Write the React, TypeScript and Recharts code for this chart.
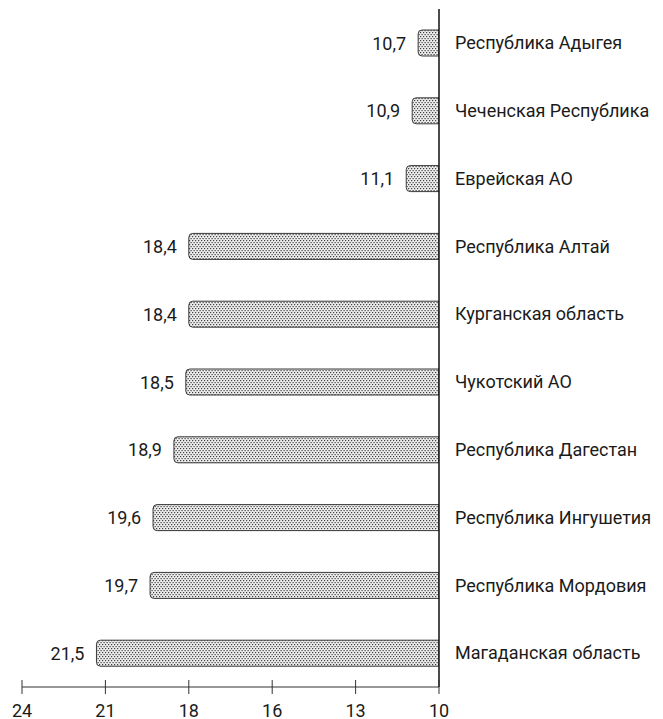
import React from "react";
import { BarChart, Bar, XAxis, YAxis, LabelList } from "recharts";

const regions = [
  "Республика Адыгея",
  "Чеченская Республика",
  "Еврейская АО",
  "Республика Алтай",
  "Курганская область",
  "Чукотский АО",
  "Республика Дагестан",
  "Республика Ингушетия",
  "Республика Мордовия",
  "Магаданская область",
];
const values = [10.7, 10.9, 11.1, 18.4, 18.4, 18.5, 18.9, 19.6, 19.7, 21.5];
const axisTicks = [24, 21.2, 18.4, 15.6, 12.8, 10];

const data = regions.map((name, i) => ({ name, value: values[i] }));

const FONT = "Roboto, 'Liberation Sans', Arial, sans-serif";
const fmt = (v: number) => v.toFixed(1).replace(".", ",");

const BarShape = (props: any) => {
  const { x, y, width, height } = props;
  const l = Math.min(x, x + width);
  const r = Math.max(x, x + width);
  const t = y;
  const b = y + height;
  const rad = Math.min(4, (r - l) / 2);
  const d = `M${r},${t} L${l + rad},${t} Q${l},${t} ${l},${t + rad} L${l},${b - rad} Q${l},${b} ${l + rad},${b} L${r},${b} Z`;
  return <path d={d} fill="url(#dotPattern)" stroke="#3a3a3a" strokeWidth={1} />;
};

const ValueLabel = (props: any) => {
  const { x, y, width, height, value } = props;
  const l = Math.min(x, x + width);
  return (
    <text
      x={l - 12}
      y={y + height / 2}
      textAnchor="end"
      dominantBaseline="central"
      fontSize={18}
      fontFamily={FONT}
      fill="#1a1a1a"
    >
      {fmt(value)}
    </text>
  );
};

const XTick = (props: any) => {
  const { x, y, payload } = props;
  return (
    <g>
      <line x1={x} x2={x} y1={y - 7} y2={y + 7} stroke="#333" strokeWidth={1} />
      <text
        x={x}
        y={y + 23}
        textAnchor="middle"
        dominantBaseline="central"
        fontSize={18}
        fontFamily={FONT}
        fill="#1a1a1a"
      >
        {Math.round(payload.value)}
      </text>
    </g>
  );
};

export default function App() {
  return (
    <div style={{ position: "absolute", left: 0, top: 0, width: 663, height: 719, background: "#fff" }}>
      <BarChart
        width={663}
        height={719}
        data={data}
        layout="vertical"
        margin={{ top: 9, right: 0, bottom: 0, left: 22 }}
        barSize={26}
      >
        <defs>
          <pattern id="dotPattern" width={3} height={4} patternUnits="userSpaceOnUse">
            <rect x={0} y={0} width={3} height={4} fill="#eeeeee" />
            <rect x={0} y={0} width={1.2} height={1.2} fill="#3c3c3c" />
            <rect x={1.5} y={2} width={1.2} height={1.2} fill="#3c3c3c" />
          </pattern>
        </defs>
        <XAxis
          type="number"
          domain={[10, 24]}
          reversed
          ticks={axisTicks}
          interval={0}
          height={32}
          tickSize={0}
          tickMargin={0}
          tickLine={false}
          axisLine={{ stroke: "#333", strokeWidth: 1 }}
          tick={<XTick />}
          allowDataOverflow
        />
        <YAxis
          type="category"
          dataKey="name"
          orientation="right"
          width={224}
          tickLine={false}
          tickSize={0}
          tickMargin={16}
          axisLine={{ stroke: "#111", strokeWidth: 1.5 }}
          tick={{ fontSize: 18, fontFamily: FONT, fill: "#1a1a1a", textAnchor: "start" }}
          interval={0}
        />
        <Bar dataKey="value" isAnimationActive={false} shape={<BarShape />}>
          <LabelList dataKey="value" content={<ValueLabel />} />
        </Bar>
      </BarChart>
    </div>
  );
}
